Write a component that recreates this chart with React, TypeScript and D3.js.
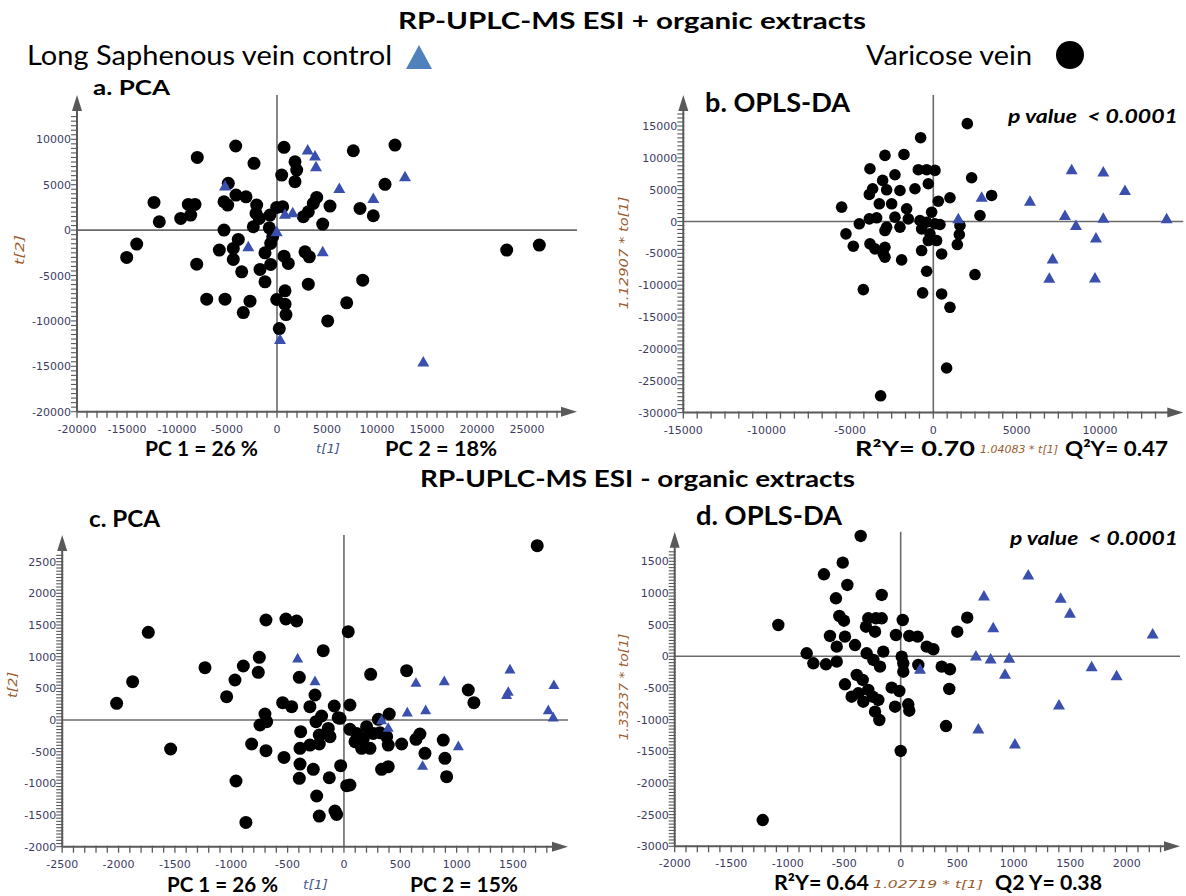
import React from "react";
import * as d3 from "d3";

type P = [number, number];

// ---- Panel a: PCA, ESI + ----
const pcaPosVaricose: P[] = [
  [-4130, 9260], [700, 9120], [-7970, 8010], [-2300, 7350], [1800, 7530], [1970, 6615], [470, 6060], [1800, 5330],
  [-4870, 5150], [-12300, 3050], [-8870, 2830], [-8200, 2830], [-5300, 3120], [-4930, 2760], [-4100, 3860], [-3100, 3670],
  [-2030, 2760], [-2100, 1840], [-1770, 1290], [-2370, 370], [-700, 1650], [-30, 2500], [570, 2570], [-11770, 920],
  [-9630, 1290], [-8630, 1650], [-5300, 0], [-770, 250], [-3870, -1030], [-5770, -2200], [-4370, -2020], [-4370, -3230],
  [-3530, -4600], [-14030, -1540], [-15030, -3010], [-8030, -3750], [-1700, -4330], [-1200, -2500], [-630, -1470], [-430, -740],
  [-630, -3780], [-1200, -5700], [700, -2870], [1130, -3670], [-7030, -7610], [-5200, -7610], [-2700, -7830], [-3370, -9080],
  [-30, -7640], [800, -6690], [800, -8160], [900, -9300], [230, -10840], [7630, 8740], [11800, 9370], [10800, 5040],
  [3970, 3600], [3630, 2940], [5300, 2650], [8300, 2390], [9630, 1580], [2630, 1470], [3130, 2020], [4570, 660],
  [2800, -2390], [3230, -2940], [3130, -5950], [8570, -5510], [6970, -8010], [5070, -10000], [22970, -2200], [26230, -1650],
];
const pcaPosControl: P[] = [
  [-5200, 4850], [-2870, -1840], [-30, -180], [800, 1760], [1570, 1910], [300, -12050], [3070, 8820], [3800, 8160],
  [3900, 6980], [6230, 4590], [9630, 3490], [12800, 5880], [4570, -2390], [14630, -14520],
];

// ---- Panel b: OPLS-DA, ESI + ----
const oplsPosVaricose: P[] = [
  [-2900, 10380], [-3800, 8280], [-3040, 6450], [-3640, 5140], [-3840, 4250], [-3240, 2780], [-5500, 2250], [-4440, -360],
  [-3840, 420], [-3400, 580], [-5240, -1940], [-4800, -3880], [-3800, -3510], [-3500, -4300], [-2900, -4040], [-2900, -5610],
  [-2900, -1420], [-4200, -10690], [-3160, -27360], [2040, 15360], [-760, 13160], [-1760, 10530], [-2300, 7340], [-900, 8130],
  [-400, 8130], [100, 8020], [2300, 6870], [-300, 5930], [-1100, 5140], [-2800, 4980], [-2000, 4870], [3500, 4090],
  [1000, 3730], [300, 3190], [-2500, 2780], [-1600, 2000], [-100, 1460], [2800, 940], [-2300, 680], [-1500, 420],
  [-800, 160], [-400, -110], [100, -360], [400, -470], [-2800, -890], [-2000, -890], [-700, -1150], [-200, -1930],
  [1600, -630], [1560, -2040], [-300, -2990], [200, -2990], [-700, -4560], [500, -5090], [1440, -3620], [-3000, -5090],
  [-1900, -6030], [-400, -7810], [2500, -8330], [-640, -11210], [500, -11370], [1000, -13470], [800, -23000],
];
const oplsPosControl: P[] = [
  [1500, 420], [2900, 3820], [5800, 3190], [8300, 8130], [10200, 7760], [11500, 4870], [7900, 940], [10200, 520],
  [14000, 420], [8560, -630], [9760, -2570], [7160, -5870], [6960, -8910], [9700, -8860],
];

// ---- Panel c: PCA, ESI - ----
const pcaNegVaricose: P[] = [
  [-1736, 1385], [-1875, 605], [-2017, 263], [-1538, -458], [-1233, 826], [-1041, 368], [-967, 632], [-893, 853],
  [-751, 990], [-760, 753], [-692, 1579], [-515, 1595], [-420, 1563], [-396, 674], [-257, 395], [-184, 1095],
  [38, 1395], [-544, 274], [-464, 211], [-302, 211], [-701, 95], [-745, -79], [-686, -26], [-819, -379],
  [-692, -484], [-532, -590], [-390, -447], [-390, -695], [-396, -921], [-384, -184], [-272, -779], [-242, -1200],
  [-219, -1516], [-80, -1437], [-65, -1490], [-870, -1616], [-958, -963], [-130, -911], [-29, -721], [24, -1037],
  [-198, 63], [-248, -26], [-86, 221], [-51, 37], [-139, -132], [-219, -237], [-124, -263], [-302, -395],
  [-219, -379], [1715, 2752], [237, 721], [556, 779], [53, 237], [-35, 26], [1103, 474], [1153, 274],
  [305, 11], [402, 95], [53, -147], [112, -211], [172, -290], [201, -105], [260, -211], [319, -200],
  [379, -263], [98, -342], [157, -447], [231, -447], [393, -395], [512, -379], [639, -305], [674, -221],
  [881, -316], [719, -526], [896, -605], [911, -895], [334, -779], [393, -737], [53, -1026],
];
const pcaNegControl: P[] = [
  [-411, 974], [-257, 616], [334, 0], [393, -121], [562, 121], [639, 589], [725, 158], [890, 616],
  [1015, -411], [698, -721], [1473, 800], [1458, 447], [1443, 395], [1863, 553], [1813, 158], [1857, 42],
];

// ---- Panel d: OPLS-DA, ESI - ----
const oplsNegVaricose: P[] = [
  [-354, 1900], [-513, 1478], [-679, 1295], [-472, 1126], [-168, 968], [-573, 916], [-1083, 494], [-543, 636],
  [-502, 562], [-287, 600], [-219, 600], [-168, 600], [-307, 467], [-227, 388], [-626, 321], [-493, 310],
  [-404, 178], [-566, 152], [-832, 47], [-773, -111], [-661, -126], [-566, -85], [-301, 47], [-242, -58],
  [-183, -164], [-493, -442], [-389, -295], [-336, -374], [-287, -532], [-434, -638], [-375, -584], [-331, -717],
  [-248, -638], [-198, -690], [-227, -875], [-189, -1006], [-1221, -2585], [18, 573], [-42, 336], [76, 321],
  [150, 310], [230, 152], [289, 111], [-154, 73], [9, -6], [23, -111], [23, -243], [156, -137],
  [363, -164], [436, -205], [501, 388], [589, 610], [430, -516], [-80, -495], [-12, -548], [-50, -796],
  [67, -758], [76, -859], [401, -1101], [0, -1495],
];
const oplsNegControl: P[] = [
  [171, -205], [666, 5], [796, -43], [961, -32], [923, -284], [737, 952], [819, 452], [1129, 1284],
  [1416, 916], [1498, 679], [2230, 352], [1690, -164], [1911, -306], [1401, -769], [687, -1148], [1011, -1385],
];

// ---- tick labels ----
const aXTicks = [-20000, -15000, -10000, -5000, 0, 5000, 10000, 15000, 20000, 25000];
const aYTicks = [-20000, -15000, -10000, -5000, 0, 5000, 10000];
const bXTicks = [-15000, -10000, -5000, 0, 5000, 10000];
const bYTicks = [-30000, -25000, -20000, -15000, -10000, -5000, 0, 5000, 10000, 15000];
const cXTicks = [-2500, -2000, -1500, -1000, -500, 0, 500, 1000, 1500];
const cYTicks = [-2000, -1500, -1000, -500, 0, 500, 1000, 1500, 2000, 2500];
const dXTicks = [-2000, -1500, -1000, -500, 0, 500, 1000, 1500, 2000];
const dYTicks = [-3000, -2500, -2000, -1500, -1000, -500, 0, 500, 1000, 1500];

const TRI = "#3a4fae";
const AXIS = "#595959";
const TICKTXT = "#3c3c62";
const YLAB = "#9a5c2e";
const MAIN_FONT = "Lato, 'Open Sans', sans-serif";

interface Cfg {
  left: number; right: number; bottom: number; top: number;
  xd: [number, number]; yd: [number, number];
  xTicks: number[]; yTicks: number[];
  xMinor: number; yMinor: number;
  r: number; tri: number;
  varicose: P[]; control: P[];
}

function Panel({ c }: { c: Cfg }) {
  const xs = d3.scaleLinear().domain(c.xd).range([c.left, c.right]);
  const ys = d3.scaleLinear().domain(c.yd).range([c.bottom, c.top]);
  const minorX = d3.range(c.xd[0], c.xd[1], c.xMinor).filter((v) => xs(v) <= c.right - 18);
  const minorY = d3.range(c.yd[0], c.yd[1], c.yMinor).filter((v) => ys(v) >= c.top + 18);
  const x0 = xs(0);
  const y0 = ys(0);
  const t = c.tri;
  return (
    <g>
      <line x1={c.left} x2={c.right} y1={y0} y2={y0} stroke="#6a6a6a" strokeWidth={1.6} />
      <line x1={x0} x2={x0} y1={c.top} y2={c.bottom} stroke="#6a6a6a" strokeWidth={1.6} />
      <line x1={c.left} x2={c.right - 8} y1={c.bottom} y2={c.bottom} stroke={AXIS} strokeWidth={2} />
      <line x1={c.left} x2={c.left} y1={c.bottom} y2={c.top + 8} stroke={AXIS} strokeWidth={2} />
      <polygon points={`${c.right},${c.bottom} ${c.right - 16},${c.bottom - 5} ${c.right - 16},${c.bottom + 5}`} fill={AXIS} />
      <polygon points={`${c.left},${c.top} ${c.left - 5},${c.top + 16} ${c.left + 5},${c.top + 16}`} fill={AXIS} />
      {minorX.map((v, i) => (
        <line key={"mx" + i} x1={xs(v)} x2={xs(v)} y1={c.bottom - 1} y2={c.bottom + 6} stroke={AXIS} strokeWidth={1.3} />
      ))}
      {minorY.map((v, i) => (
        <line key={"my" + i} x1={c.left - 6} x2={c.left + 1} y1={ys(v)} y2={ys(v)} stroke={AXIS} strokeWidth={1.1} />
      ))}
      {c.xTicks.map((v) => (
        <text key={"xl" + v} x={xs(v)} y={c.bottom + 21} textAnchor="middle" fontSize={11}
          fontFamily="'DejaVu Sans', sans-serif" fill={TICKTXT}>{v}</text>
      ))}
      {c.yTicks.map((v) => (
        <text key={"yl" + v} x={c.left - 6} y={ys(v) + 4} textAnchor="end" fontSize={11}
          fontFamily="'DejaVu Sans', sans-serif" fill={TICKTXT}>{v}</text>
      ))}
      {c.varicose.map((p, i) => (
        <circle key={"v" + i} cx={xs(p[0])} cy={ys(p[1])} r={c.r} fill="#000" />
      ))}
      {c.control.map((p, i) => {
        const px = xs(p[0]);
        const py = ys(p[1]);
        return (
          <polygon key={"c" + i}
            points={`${px},${py - t} ${px - t},${py + t * 0.75} ${px + t},${py + t * 0.75}`}
            fill={TRI} />
        );
      })}
    </g>
  );
}

function T(props: { x: number; y: number; size: number; bold?: boolean; italic?: boolean; w?: number;
  fill?: string; font?: string; children: React.ReactNode; }) {
  const { x, y, size, bold, italic, w, fill, font, children } = props;
  return (
    <text x={x} y={y} fontSize={size} fontWeight={bold ? 700 : 400} fontStyle={italic ? "italic" : "normal"}
      fontFamily={font || MAIN_FONT} fill={fill || "#000"} style={{ whiteSpace: "pre" }}
      {...(w ? { textLength: w, lengthAdjust: "spacingAndGlyphs" } : {})}>
      {children}
    </text>
  );
}

function RotLabel({ cx, cy, w, children }: { cx: number; cy: number; w: number; children: React.ReactNode }) {
  return (
    <text transform={`translate(${cx},${cy}) rotate(-90)`} textAnchor="middle" fontSize={13} fontStyle="italic"
      fontFamily="'DejaVu Sans', sans-serif" fill={YLAB} textLength={w} lengthAdjust="spacingAndGlyphs" dy="0.35em">
      {children}
    </text>
  );
}

export default function App() {
  const panels: Cfg[] = [
    { left: 77, right: 577, bottom: 411.7, top: 95, xd: [-20000, 30000], yd: [-20000, 14880],
      xTicks: aXTicks, yTicks: aYTicks, xMinor: 1000, yMinor: 500, r: 6.5, tri: 6,
      varicose: pcaPosVaricose, control: pcaPosControl },
    { left: 683.3, right: 1183.3, bottom: 412.6, top: 95, xd: [-15000, 15000], yd: [-30000, 19860],
      xTicks: bXTicks, yTicks: bYTicks, xMinor: 5000 / 6, yMinor: 625, r: 5.8, tri: 6,
      varicose: oplsPosVaricose, control: oplsPosControl },
    { left: 62.2, right: 568, bottom: 846.7, top: 535, xd: [-2500, 1988], yd: [-2000, 2921],
      xTicks: cXTicks, yTicks: cYTicks, xMinor: 100, yMinor: 50, r: 6.5, tri: 5.5,
      varicose: pcaNegVaricose, control: pcaNegControl },
    { left: 674.7, right: 1180, bottom: 846.3, top: 531.7, xd: [-2000, 2472], yd: [-3000, 1967],
      xTicks: dXTicks, yTicks: dYTicks, xMinor: 100, yMinor: 50, r: 6.2, tri: 6,
      varicose: oplsNegVaricose, control: oplsNegControl },
  ];
  return (
    <svg width={1186} height={896} style={{ position: "absolute", left: 0, top: 0, background: "#fff" }}>
      <rect x={0} y={0} width={1186} height={896} fill="#fff" />
      {panels.map((c, i) => <Panel key={i} c={c} />)}

      <T x={398} y={29} size={23} bold w={468}>RP-UPLC-MS ESI + organic extracts</T>
      <T x={27} y={65} size={26} w={365}>Long Saphenous vein control</T>
      <polygon points="419,45 406,69 432,69" fill="#4f81bd" />
      <T x={866} y={65} size={26} w={166}>Varicose vein</T>
      <circle cx={1070} cy={55} r={14} fill="#000" />

      <T x={93} y={95} size={21} bold w={77}>a. PCA</T>
      <T x={705} y={112} size={26} bold w={145}>b. OPLS-DA</T>
      <T x={1008} y={123} size={19} bold italic w={170}>p value  &lt; 0.0001</T>

      <T x={145} y={456} size={20} bold w={113}>PC 1 = 26 %</T>
      <T x={316} y={453} size={13} italic w={24} fill="#45598e" font="'DejaVu Sans', sans-serif">t[1]</T>
      <T x={385} y={456} size={20} bold w={112}>PC 2 = 18%</T>
      <T x={855} y={456} size={20} bold w={120}>R²Y= 0.70</T>
      <T x={980} y={453} size={11} italic w={78} fill={YLAB} font="'DejaVu Sans', sans-serif">1.04083 * t[1]</T>
      <T x={1065} y={456} size={20} bold w={103}>Q²Y= 0.47</T>

      <T x={420} y={487} size={23} bold w={435}>RP-UPLC-MS ESI - organic extracts</T>
      <T x={89} y={527} size={22} bold w={71}>c. PCA</T>
      <T x={696} y={525} size={26} bold w={146}>d. OPLS-DA</T>
      <T x={1010} y={545} size={19} bold italic w={168}>p value  &lt; 0.0001</T>

      <T x={167} y={892} size={20} bold w={111}>PC 1 = 26 %</T>
      <T x={303} y={889} size={13} italic w={25} fill="#45598e" font="'DejaVu Sans', sans-serif">t[1]</T>
      <T x={410} y={892} size={20} bold w={108}>PC 2 = 15%</T>
      <T x={774} y={890} size={20} bold w={95}>R²Y= 0.64</T>
      <T x={873} y={888} size={11} italic w={110} fill={YLAB} font="'DejaVu Sans', sans-serif">1.02719 * t[1]</T>
      <T x={995} y={890} size={20} bold w={107}>Q2 Y= 0.38</T>

      <RotLabel cx={19} cy={250} w={30}>t[2]</RotLabel>
      <RotLabel cx={623} cy={253} w={113}>1.12907 * to[1]</RotLabel>
      <RotLabel cx={12} cy={685} w={26}>t[2]</RotLabel>
      <RotLabel cx={623} cy={687} w={107}>1.33237 * to[1]</RotLabel>
    </svg>
  );
}
